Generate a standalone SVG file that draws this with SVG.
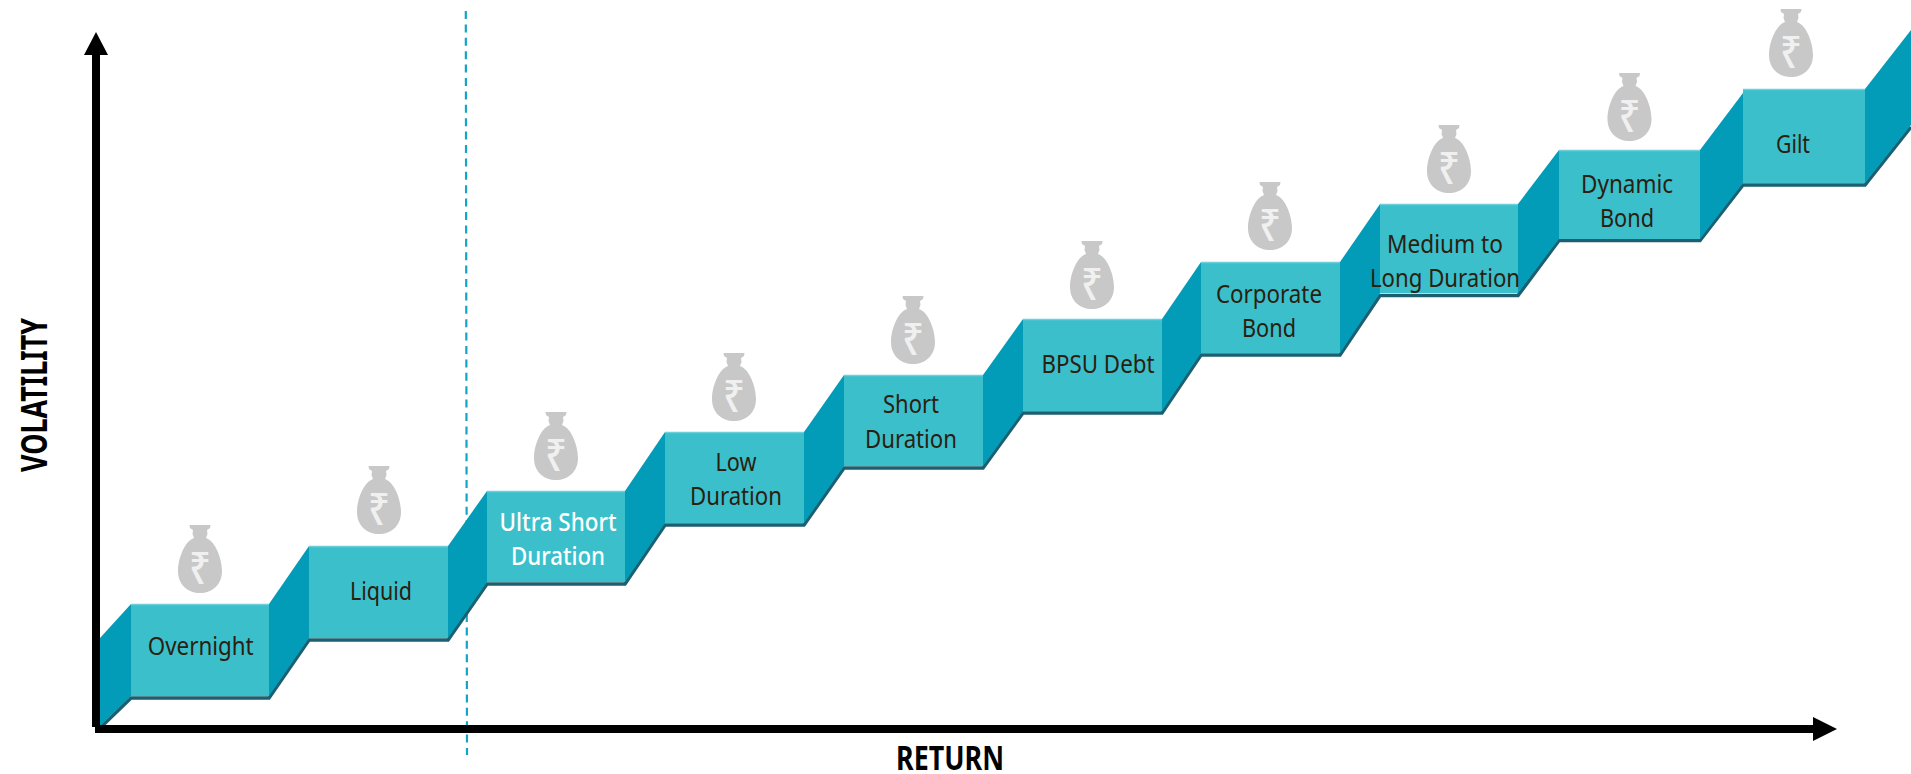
<svg xmlns="http://www.w3.org/2000/svg" xmlns:xlink="http://www.w3.org/1999/xlink" width="1911" height="774" viewBox="0 0 1911 774">
<style>
.box{fill:#3bbfcb}
.edge{stroke:#6bd0da;stroke-width:1.5;fill:none}
.wall{fill:#029cb8}
.shade{fill:none;stroke:#1b5f70;stroke-width:3.5;stroke-linejoin:miter}
.bag{fill:#c8c8c8}
.rs{font-family:"Noto Sans","DejaVu Sans",sans-serif;font-size:45px;font-weight:500;fill:#f0f0f0;text-anchor:middle}
.t{font-family:"Noto Sans","Liberation Sans",sans-serif;font-size:26px;fill:#2a2010;text-anchor:middle}
.w{fill:#ffffff;font-weight:500}
.h{font-family:"Noto Sans","Liberation Sans",sans-serif;font-size:34px;font-weight:700;fill:#000;text-anchor:middle}
</style>
<defs>
<path id="bagshape" d="M-10.5,0 H10.5 L10,3 L7,5 L7.500,9 L6,13 C15,16 22,33 22,46 C22,60 12,68 0,68 C-12,68 -22,60 -22,46 C-22,33 -15,16 -6,13 L-7.500,9 L-7,5 L-10,3 Z"/>
</defs>
<line id="divider" x1="465.8" y1="11" x2="467" y2="755" stroke="#13a5c4" stroke-width="2.2" stroke-dasharray="8 5.4"/>
<g id="shadows">
<polyline class="shade" points="100,728 131,698 269,698 309,640 448,640 487,584 625,584 665,525 804,525 844,468 983,468 1023,413 1162,413 1201,355 1340,355 1380,295.500 1518,295.500 1559,240.500 1700,240.500 1743,185 1865,185 1911,127"/>
</g>
<g id="walls">
<polygon class="wall" points="100,638 131,604 131,696 100,726"/>
<polygon class="wall" points="269,604 309,546 309,638 269,696"/>
<polygon class="wall" points="448,546 487,491 487,582 448,638"/>
<polygon class="wall" points="625,491 665,432 665,523 625,582"/>
<polygon class="wall" points="804,432 844,375 844,466 804,523"/>
<polygon class="wall" points="983,375 1023,319 1023,411 983,466"/>
<polygon class="wall" points="1162,319 1201,262 1201,353 1162,411"/>
<polygon class="wall" points="1340,262 1380,204 1380,293 1340,353"/>
<polygon class="wall" points="1518,204 1559,150 1559,239 1518,293"/>
<polygon class="wall" points="1700,150 1743,93 1743,183 1700,239"/>
<polygon class="wall" points="1865,89 1911,30 1911,125 1865,183"/>
</g>
<g id="axes">
<rect x="92" y="54" width="8" height="673"/>
<polygon points="96,32 84,55 108,55"/>
<rect x="95" y="725" width="1720" height="8"/>
<polygon points="1837,729 1813,717 1813,741"/>
</g>
<g id="node-overnight">
<rect class="box" x="131" y="604" width="138" height="92"/><path class="edge" d="M131,604.5H269"/>
<use xlink:href="#bagshape" href="#bagshape" class="bag" x="200" y="525"/><text class="rs" x="200" y="584" textLength="22" lengthAdjust="spacingAndGlyphs">₹</text>
<text class="t" x="200.7" y="655" textLength="106" lengthAdjust="spacingAndGlyphs">Overnight</text>
</g>
<g id="node-liquid">
<rect class="box" x="309" y="546" width="139" height="92"/><path class="edge" d="M309,546.5H448"/>
<use xlink:href="#bagshape" href="#bagshape" class="bag" x="379" y="466"/><text class="rs" x="379" y="525" textLength="22" lengthAdjust="spacingAndGlyphs">₹</text>
<text class="t" x="381" y="600" textLength="62" lengthAdjust="spacingAndGlyphs">Liquid</text>
</g>
<g id="node-ultra-short">
<rect class="box" x="487" y="491" width="138" height="91"/><path class="edge" d="M487,491.5H625"/>
<use xlink:href="#bagshape" href="#bagshape" class="bag" x="556" y="412"/><text class="rs" x="556" y="471" textLength="22" lengthAdjust="spacingAndGlyphs">₹</text>
<text class="t w" x="558" y="531" textLength="117" lengthAdjust="spacingAndGlyphs">Ultra Short</text>
<text class="t w" x="558" y="565" textLength="94" lengthAdjust="spacingAndGlyphs">Duration</text>
</g>
<g id="node-low">
<rect class="box" x="665" y="432" width="139" height="91"/><path class="edge" d="M665,432.5H804"/>
<use xlink:href="#bagshape" href="#bagshape" class="bag" x="734" y="353"/><text class="rs" x="734" y="412" textLength="22" lengthAdjust="spacingAndGlyphs">₹</text>
<text class="t" x="736" y="471" textLength="41" lengthAdjust="spacingAndGlyphs">Low</text>
<text class="t" x="736" y="505" textLength="92" lengthAdjust="spacingAndGlyphs">Duration</text>
</g>
<g id="node-short">
<rect class="box" x="844" y="375" width="139" height="91"/><path class="edge" d="M844,375.5H983"/>
<use xlink:href="#bagshape" href="#bagshape" class="bag" x="913" y="296"/><text class="rs" x="913" y="355" textLength="22" lengthAdjust="spacingAndGlyphs">₹</text>
<text class="t" x="911" y="413" textLength="56" lengthAdjust="spacingAndGlyphs">Short</text>
<text class="t" x="911" y="448" textLength="92" lengthAdjust="spacingAndGlyphs">Duration</text>
</g>
<g id="node-bpsu">
<rect class="box" x="1023" y="319" width="139" height="92"/><path class="edge" d="M1023,319.5H1162"/>
<use xlink:href="#bagshape" href="#bagshape" class="bag" x="1092" y="241"/><text class="rs" x="1092" y="300" textLength="22" lengthAdjust="spacingAndGlyphs">₹</text>
<text class="t" x="1098" y="373" textLength="113" lengthAdjust="spacingAndGlyphs">BPSU Debt</text>
</g>
<g id="node-corporate">
<rect class="box" x="1201" y="262" width="139" height="91"/><path class="edge" d="M1201,262.5H1340"/>
<use xlink:href="#bagshape" href="#bagshape" class="bag" x="1270" y="182"/><text class="rs" x="1270" y="241" textLength="22" lengthAdjust="spacingAndGlyphs">₹</text>
<text class="t" x="1269" y="303" textLength="106" lengthAdjust="spacingAndGlyphs">Corporate</text>
<text class="t" x="1269" y="337" textLength="54" lengthAdjust="spacingAndGlyphs">Bond</text>
</g>
<g id="node-medium">
<rect class="box" x="1380" y="204" width="138" height="89"/><path class="edge" d="M1380,204.5H1518"/>
<use xlink:href="#bagshape" href="#bagshape" class="bag" x="1449" y="125"/><text class="rs" x="1449" y="184" textLength="22" lengthAdjust="spacingAndGlyphs">₹</text>
<text class="t" x="1445" y="253" textLength="116" lengthAdjust="spacingAndGlyphs">Medium to</text>
<text class="t" x="1445" y="287" textLength="150" lengthAdjust="spacingAndGlyphs">Long Duration</text>
</g>
<g id="node-dynamic">
<rect class="box" x="1559" y="150" width="141" height="89"/><path class="edge" d="M1559,150.5H1700"/>
<use xlink:href="#bagshape" href="#bagshape" class="bag" x="1629.500" y="73"/><text class="rs" x="1629.500" y="132" textLength="22" lengthAdjust="spacingAndGlyphs">₹</text>
<text class="t" x="1627" y="193" textLength="92" lengthAdjust="spacingAndGlyphs">Dynamic</text>
<text class="t" x="1627" y="227" textLength="54" lengthAdjust="spacingAndGlyphs">Bond</text>
</g>
<g id="node-gilt">
<rect class="box" x="1743" y="89" width="122" height="94"/><path class="edge" d="M1743,89.500H1865"/>
<use xlink:href="#bagshape" href="#bagshape" class="bag" x="1791" y="9"/><text class="rs" x="1791" y="68" textLength="22" lengthAdjust="spacingAndGlyphs">₹</text>
<text class="t" x="1793" y="153" textLength="34" lengthAdjust="spacingAndGlyphs">Gilt</text>
</g>
<text id="label-return" class="h" x="950" y="770" textLength="108" lengthAdjust="spacingAndGlyphs">RETURN</text>
<text id="label-volatility" class="h" style="font-size:35px" transform="translate(47,395) rotate(-90)" textLength="154" lengthAdjust="spacingAndGlyphs">VOLATILITY</text>
</svg>
